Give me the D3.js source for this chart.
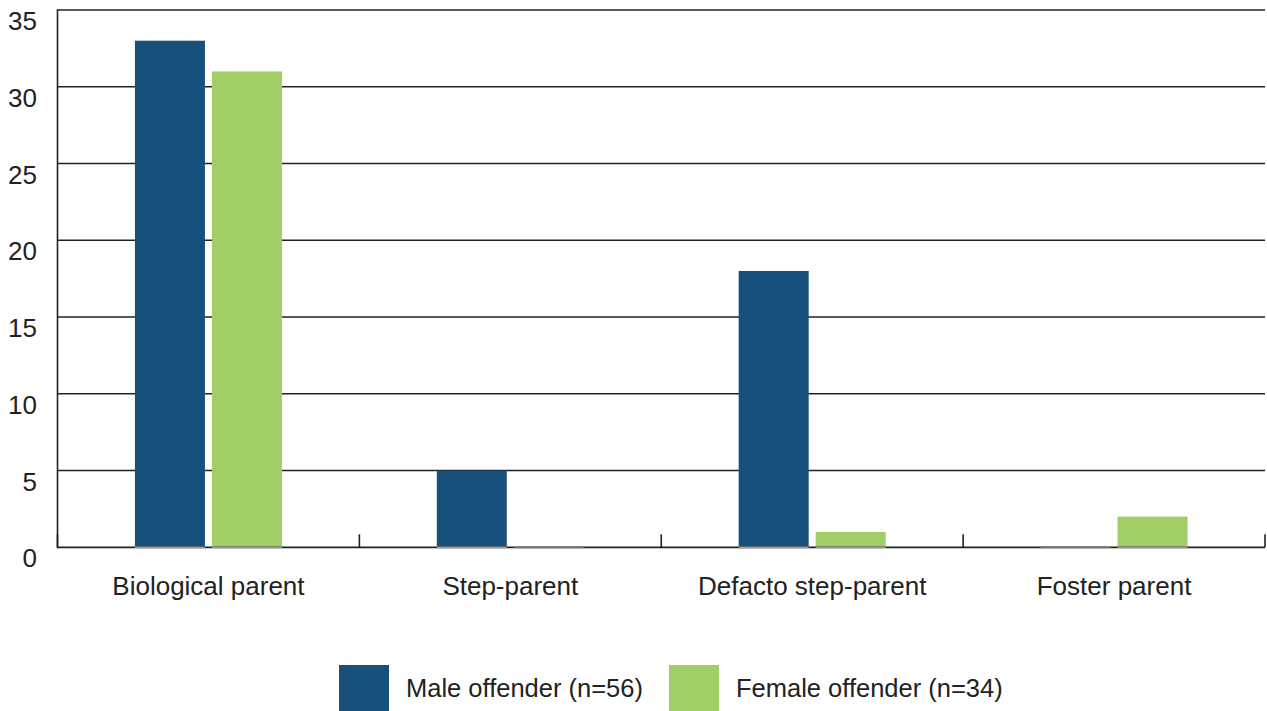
<!DOCTYPE html>
<html>
<head>
<meta charset="utf-8">
<script src="https://cdn.jsdelivr.net/npm/d3@7"></script>
<style>
  html, body { margin: 0; padding: 0; background: #ffffff; }
  svg { display: block; font-family: "Liberation Sans", Arial, Helvetica, sans-serif; }
</style>
</head>
<body>
<svg id="chart" width="1267" height="711"></svg>
<script>
// Relationship of offender to victim, by offender sex
const categories = ["Biological parent", "Step-parent", "Defacto step-parent", "Foster parent"];
const seriesNames = ["Male offender (n=56)", "Female offender (n=34)"];
const maleValues = [33, 5, 18, 0];
const femaleValues = [31, 0, 1, 2];
const yTicks = [0, 5, 10, 15, 20, 25, 30, 35];
const seriesColors = ["#17507b", "#a1ce65"];

const svg = d3.select("#chart");
const plotLeft = 57.5, plotRight = 1265, plotTop = 10, plotBottom = 547.3;

const x = d3.scaleBand().domain(categories).range([plotLeft, plotRight]).paddingInner(0).paddingOuter(0);
const barW = 70, barGap = 7;
const xs = d3.scaleBand().domain(seriesNames).range([0, 2 * barW + barGap]).paddingInner(barGap / (barW + barGap)).paddingOuter(0);
const y = d3.scaleLinear().domain([0, 35]).range([plotBottom, plotTop]);

const series = [maleValues, femaleValues];
const rows = [];
categories.forEach((c, i) => {
  series.forEach((vals, s) => rows.push({ cat: c, s, name: seriesNames[s], value: vals[i] }));
});

// Horizontal grid lines
svg.append("g")
  .selectAll("line")
  .data(yTicks.filter(t => t > 0))
  .join("line")
  .attr("x1", plotLeft).attr("x2", plotRight)
  .attr("y1", d => y(d)).attr("y2", d => y(d))
  .attr("stroke", "#222").attr("stroke-width", 1.6);

// Y axis labels
svg.append("g")
  .selectAll("text")
  .data(yTicks)
  .join("text")
  .attr("x", 37)
  .attr("y", d => y(d) + 20)
  .attr("text-anchor", "end")
  .attr("font-size", 26)
  .attr("fill", "#222")
  .text(d => d);

// Bars
const pairOffset = (x.bandwidth() - (2 * barW + barGap)) / 2;
const bars = svg.append("g");
bars.selectAll("rect")
  .data(rows)
  .join("rect")
  .attr("x", d => x(d.cat) + pairOffset + xs(d.name))
  .attr("width", xs.bandwidth())
  .attr("y", d => y(d.value))
  .attr("height", d => y(0) - y(d.value))
  .attr("fill", d => seriesColors[d.s]);

// Baseline and left axis
svg.append("line")
  .attr("x1", plotLeft).attr("x2", plotRight)
  .attr("y1", plotBottom).attr("y2", plotBottom)
  .attr("stroke", "#222").attr("stroke-width", 1.8);
svg.append("line")
  .attr("x1", plotLeft).attr("x2", plotLeft)
  .attr("y1", plotTop - 0.8).attr("y2", plotBottom + 0.9)
  .attr("stroke", "#222").attr("stroke-width", 1.6);

// Soft grey foot under each bar
svg.append("g")
  .selectAll("line")
  .data(rows)
  .join("line")
  .attr("x1", d => x(d.cat) + pairOffset + xs(d.name))
  .attr("x2", d => x(d.cat) + pairOffset + xs(d.name) + xs.bandwidth())
  .attr("y1", plotBottom).attr("y2", plotBottom)
  .attr("stroke", d => d.value === 0 ? "#77776c" : "#9a9a9a")
  .attr("stroke-width", 1.8);

// Category boundary ticks
const bounds = categories.map(c => x(c)).concat([plotRight]);
svg.append("g")
  .selectAll("line")
  .data(bounds)
  .join("line")
  .attr("x1", d => d).attr("x2", d => d)
  .attr("y1", plotBottom - 13).attr("y2", plotBottom)
  .attr("stroke", "#222").attr("stroke-width", 1.6);

// Category labels
svg.append("g")
  .selectAll("text")
  .data(categories)
  .join("text")
  .attr("x", d => x(d) + x.bandwidth() / 2)
  .attr("y", 595)
  .attr("text-anchor", "middle")
  .attr("font-size", 26)
  .attr("fill", "#222")
  .text(d => d);

// Legend
const legendX = [339, 669];
const legend = svg.append("g")
  .selectAll("g")
  .data(seriesNames)
  .join("g")
  .attr("transform", (d, i) => `translate(${legendX[i]},665)`);
legend.append("rect")
  .attr("width", 50).attr("height", 50)
  .attr("fill", (d, i) => seriesColors[i]);
legend.append("text")
  .attr("x", 67).attr("y", 32)
  .attr("font-size", 25.5)
  .attr("fill", "#222")
  .text(d => d);
</script>
</body>
</html>
